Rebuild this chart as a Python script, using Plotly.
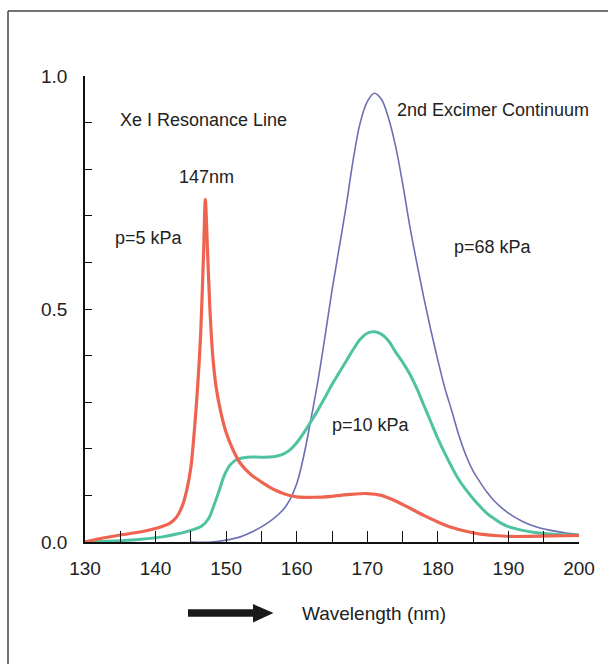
import plotly.graph_objects as go

# ---- data ----
wl_red = [130, 132, 135, 138, 140, 142, 143, 143.8, 144.4, 145, 145.5, 145.9, 146.4, 146.8, 147.05, 147.35,
          147.7, 148.1, 148.6, 149.3, 150, 151, 152, 153.5, 155.3, 157, 158.5, 160, 162.5, 165, 167.5, 170,
          172, 174, 176, 178, 180, 182, 184, 186, 188, 190, 193, 196, 200]
red = [0.0, 0.007, 0.015, 0.022, 0.029, 0.04, 0.054, 0.078, 0.11, 0.16, 0.24, 0.32, 0.45, 0.62, 0.735, 0.63,
       0.5, 0.4, 0.33, 0.275, 0.235, 0.197, 0.169, 0.145, 0.126, 0.111, 0.102, 0.097, 0.096, 0.098, 0.102, 0.104,
       0.1, 0.088, 0.073, 0.057, 0.043, 0.031, 0.023, 0.017, 0.014, 0.012, 0.012, 0.013, 0.014]

wl_green = [130, 134, 138, 141, 143, 145, 146.5, 147.5, 148.3, 149, 149.8, 150.6, 151.5, 153, 155, 156.7,
            158, 159, 160, 161, 162, 163, 164, 165, 166, 167, 168, 169, 170, 171, 172, 173, 174, 175, 176,
            177, 178, 179, 180, 181, 182, 183, 184, 185, 186, 187, 188, 189, 190, 192, 194, 197, 200]
green = [0.0, 0.002, 0.006, 0.011, 0.017, 0.025, 0.034, 0.05, 0.08, 0.11, 0.145, 0.166, 0.177, 0.182, 0.182,
         0.183, 0.188, 0.197, 0.213, 0.234, 0.258, 0.283, 0.31, 0.338, 0.363, 0.388, 0.413, 0.435, 0.448,
         0.451, 0.446, 0.432, 0.408, 0.386, 0.361, 0.33, 0.294, 0.258, 0.222, 0.19, 0.16, 0.133, 0.112,
         0.093, 0.076, 0.061, 0.05, 0.04, 0.033, 0.025, 0.02, 0.016, 0.015]

wl_blue = [145, 148, 150, 152, 154, 156, 158, 159, 160, 161, 162, 163, 164, 165, 166, 167, 168, 169, 170,
           171, 172, 173, 174, 175, 176, 177, 178, 179, 180, 181, 182, 183, 184, 185, 186, 187, 188, 189,
           190, 192, 194, 196, 198, 200]
blue = [0.0, 0.0, 0.004, 0.011, 0.024, 0.042, 0.068, 0.09, 0.125, 0.185, 0.262, 0.345, 0.44, 0.54, 0.63,
        0.72, 0.82, 0.9, 0.945, 0.963, 0.95, 0.91, 0.85, 0.77, 0.68, 0.6, 0.525, 0.455, 0.39, 0.33, 0.28,
        0.228, 0.185, 0.152, 0.128, 0.106, 0.088, 0.074, 0.062, 0.044, 0.032, 0.025, 0.02, 0.016]

x_ticks = [130, 140, 150, 160, 170, 180, 190, 200]
y_ticks = [0.0, 0.5, 1.0]
y_tick_labels = ["0.0", "0.5", "1.0"]

RED = "#EE6450"
GREEN = "#4FC3A1"
BLUE = "#6C6FB2"
TXT = "#222222"
FONT = "Liberation Sans Narrow, Arial Narrow, Liberation Sans, Arial"

fig = go.Figure()
fig.add_trace(go.Scatter(x=wl_blue, y=blue, mode="lines", line=dict(color=BLUE, width=1.6, shape="spline", smoothing=1.0),
                         name="p=68 kPa"))
fig.add_trace(go.Scatter(x=wl_green, y=green, mode="lines", line=dict(color=GREEN, width=3, shape="spline", smoothing=1.0),
                         name="p=10 kPa"))
fig.add_trace(go.Scatter(x=wl_red, y=red, mode="lines", line=dict(color=RED, width=3.2, shape="spline", smoothing=0.8),
                         name="p=5 kPa"))

W, H = 608, 664
L, R, T, B = 85, 29, 76, 122
pw, ph = W - L - R, H - T - B

def px(xp):
    return (xp - L) / pw

def py(yp):
    return (H - B - yp) / ph

shapes = []
# outer frame: only top and left edges are inside the picture
shapes.append(dict(type="line", xref="paper", yref="paper", x0=px(8), x1=px(W), y0=py(11), y1=py(11),
                   line=dict(color="#444444", width=1.5), layer="below"))
shapes.append(dict(type="line", xref="paper", yref="paper", x0=px(8), x1=px(8), y0=py(11), y1=py(H),
                   line=dict(color="#444444", width=1.5), layer="below"))
# arrow shaft and head
shapes.append(dict(type="rect", xref="paper", yref="paper", x0=px(188), x1=px(255), y0=py(616.7), y1=py(609.3),
                   fillcolor="#1a1a1a", line=dict(width=0)))
shapes.append(dict(type="path", xref="paper", yref="paper",
                   path=f"M {px(253)} {py(604)} L {px(273.5)} {py(613)} L {px(253)} {py(622.5)} Z",
                   fillcolor="#1a1a1a", line=dict(width=0)))

def ann(text, x, y, xanchor="left", size=18):
    return dict(text=text, x=x, y=y, xref="x", yref="y", showarrow=False, xanchor=xanchor, yanchor="middle",
                font=dict(family=FONT, size=size, color=TXT))

annotations = [
    ann("Xe I Resonance Line", 134.7, 0.906),
    ann("147nm", 147.25, 0.784, xanchor="center"),
    ann("p=5 kPa", 134.0, 0.652),
    ann("2nd Excimer Continuum", 173.9, 0.927),
    ann("p=68 kPa", 182.0, 0.634),
    ann("p=10 kPa", 164.7, 0.251),
    dict(text="Wavelength (nm)", x=px(300), y=py(613), xref="paper", yref="paper", showarrow=False,
         xanchor="left", yanchor="middle", font=dict(family=FONT, size=19, color=TXT)),
]

fig.update_layout(
    width=W, height=H,
    margin=dict(l=L, r=R, t=T, b=B, pad=0),
    paper_bgcolor="white", plot_bgcolor="white",
    showlegend=False,
    shapes=shapes,
    annotations=annotations,
    font=dict(family=FONT, size=19, color=TXT),
)
fig.update_xaxes(range=[130, 200], showgrid=False, zeroline=False, showline=True, linecolor="#111111", linewidth=1.5,
                 ticks="inside", ticklen=11, tickwidth=1.3, tickcolor="#111111",
                 tickvals=[130 + 5 * i for i in range(15)],
                 ticktext=[str(v) if v in x_ticks else "" for v in [130 + 5 * i for i in range(15)]],
                 ticklabelstandoff=8, tickfont=dict(family=FONT, size=19, color=TXT), fixedrange=True)
fig.update_yaxes(range=[0, 1.0], showgrid=False, zeroline=False, showline=True, linecolor="#111111", linewidth=1.5,
                 ticks="inside", ticklen=7, tickwidth=1.3, tickcolor="#111111",
                 tickvals=[round(0.1 * i, 1) for i in range(11)],
                 ticktext=[y_tick_labels[y_ticks.index(round(0.1 * i, 1))] if round(0.1 * i, 1) in y_ticks else ""
                           for i in range(11)],
                 ticklabelstandoff=12, tickfont=dict(family=FONT, size=19, color=TXT), fixedrange=True)

fig.write_html("out.html")
